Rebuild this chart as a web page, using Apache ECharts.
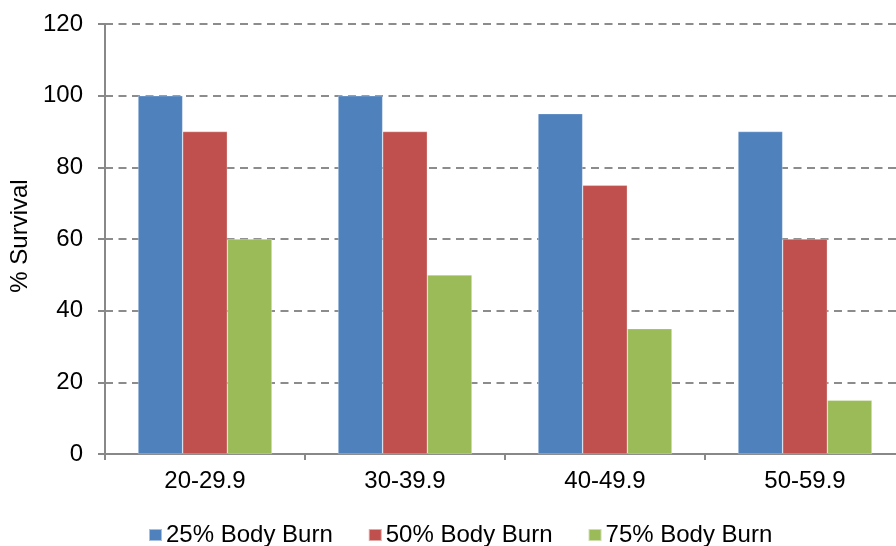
<!DOCTYPE html>
<html><head><meta charset="utf-8">
<script src="https://cdn.jsdelivr.net/npm/echarts@6/dist/echarts.min.js"></script>
<style>html,body{margin:0;padding:0;background:#fff}#c{width:896px;height:546px}</style>
</head><body><div id="c"></div>
<script>
const categories = ['20-29.9', '30-39.9', '40-49.9', '50-59.9'];
const burn25 = [100, 100, 95, 90];
const burn50 = [90, 90, 75, 60];
const burn75 = [60, 50, 35, 15];
const seriesNames = ['25% Body Burn', '50% Body Burn', '75% Body Burn'];
const colors = ['#4F81BD', '#C0504D', '#9BBB59'];

const chart = echarts.init(document.getElementById('c'), null, {renderer: 'canvas'});
const font = 'Liberation Sans, Arial, sans-serif';
const mk = (name, data, color) => ({
  name, type: 'bar', data, barGap: '0%', barCategoryGap: '33%',
  itemStyle: {color, borderColor: 'rgba(255,255,255,0.5)', borderWidth: 0.6},
  animation: false
});
chart.setOption({
  animation: false,
  color: colors,
  grid: {left: 105, width: 800, top: 24, bottom: 92, containLabel: false, outerBoundsMode: 'none'},
  legend: {
    data: seriesNames, bottom: -1, left: 148, padding: 0, itemWidth: 13, itemHeight: 12, itemGap: 35,
    icon: 'rect', textStyle: {fontSize: 24, color: '#000', fontFamily: font, padding: [0, 0, 0, -1]}
  },
  xAxis: {
    type: 'category', data: categories,
    axisLine: {lineStyle: {color: '#888', width: 2}},
    axisTick: {show: true, length: 6, lineStyle: {color: '#888', width: 2}},
    axisLabel: {fontSize: 24, color: '#000', fontFamily: font, margin: 15}
  },
  yAxis: {
    type: 'value', min: 0, max: 120, interval: 20,
    name: '% Survival', nameLocation: 'middle', nameGap: 61, nameRotate: 90,
    nameTextStyle: {fontSize: 24, color: '#000', fontFamily: font, padding: [0, 0, 0, 6]},
    axisLine: {show: true, lineStyle: {color: '#888', width: 2}},
    axisTick: {show: true, length: 7, lineStyle: {color: '#888', width: 2}},
    axisLabel: {fontSize: 24, color: '#000', fontFamily: font, margin: 22},
    splitLine: {show: true, lineStyle: {color: '#8c8c8c', width: 2, type: [8, 5.5]}}
  },
  series: [mk(seriesNames[0], burn25, colors[0]), mk(seriesNames[1], burn50, colors[1]), mk(seriesNames[2], burn75, colors[2])]
});
</script></body></html>
